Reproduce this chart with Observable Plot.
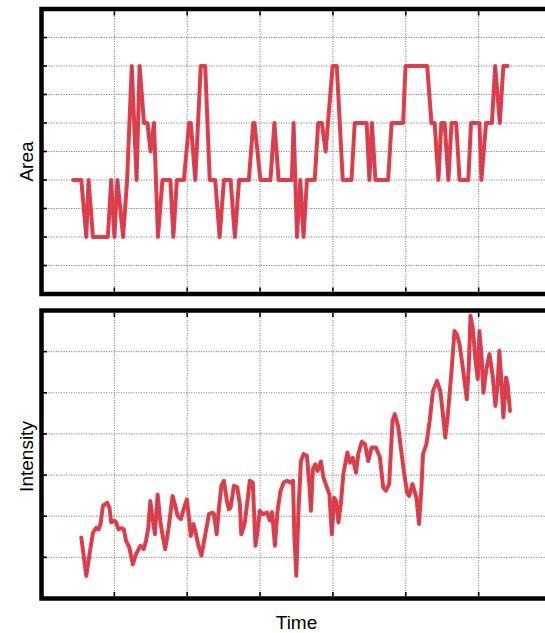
<!DOCTYPE html>
<html>
<head>
<meta charset="utf-8">
<script src="https://cdn.jsdelivr.net/npm/d3@7"></script>
<script src="https://cdn.jsdelivr.net/npm/@observablehq/plot@0.6"></script>
<style>
  html, body { margin: 0; padding: 0; background: white; }
  #chart { width: 545px; height: 633px; overflow: hidden; position: relative; }
  #chart svg { display: block; overflow: hidden; }
</style>
</head>
<body>
<div id="chart"></div>
<script>
// ---- data ----
const timeTicks = [10, 20, 30, 40, 50, 60];
const areaTicks = [1, 2, 3, 4, 5, 6, 7, 8, 9];
const intensityTicks = [1, 2, 3, 4, 5, 6];

const areaTime = [4.33,5.46,6.15,6.46,7.06,9.11,9.56,10.01,10.42,11.20,11.75,12.39,13.05,13.46,14.07,14.55,14.96,15.44,15.98,16.60,
  17.69,18.10,18.58,19.54,20.26,20.49,21.11,21.86,22.47,23.09,23.84,24.45,25.04,25.96,26.54,27.12,28.46,29.06,29.23,30.05,
  31.42,31.97,32.55,34.36,34.60,35.07,35.52,35.97,36.43,37.50,37.98,38.48,39.00,39.96,40.53,41.35,42.55,42.99,44.63,45.01,
  45.36,45.83,47.58,48.05,49.63,49.97,52.94,53.52,53.96,54.48,54.88,55.33,55.85,56.28,56.92,57.38,58.58,58.95,60.11,60.38,
  61.02,61.82,62.27,62.91,63.39,63.98];
const areaValue = [4,4,2,4,2,2,4,2,4,2,4,8,4,8,6,6,5,6,2,4,
  4,2,4,4,6,6,4,8,8,4,4,2,4,4,2,4,4,6,6,4,
  4,6,4,4,6,2,4,2,4,4,6,6,5,8,8,4,4,6,6,4,
  6,4,4,6,6,8,8,6,6,4,6,6,4,6,6,4,4,6,6,4,
  6,6,8,6,8,8];

const intensityTime = [5.46,6.15,6.60,7.06,7.51,7.83,8.10,8.43,9.02,9.33,9.56,10.01,10.25,10.56,10.93,11.30,11.61,12.06,12.53,12.98,
  13.57,14.03,14.34,14.66,14.93,15.26,15.57,15.94,16.30,16.63,16.98,17.45,17.99,18.31,18.68,19.13,19.58,19.95,20.26,20.49,
  20.86,21.17,21.49,21.95,22.40,22.99,23.46,23.67,24.04,24.36,24.69,25.04,25.41,25.72,25.96,26.41,26.87,27.23,27.42,27.87,
  28.24,28.59,29.00,29.37,29.60,29.96,30.42,30.97,31.33,31.65,32.04,32.38,32.79,33.24,33.70,34.15,34.52,34.70,34.97,35.29,
  35.61,35.97,36.43,36.79,36.98,37.25,37.57,37.88,38.35,38.70,39.17,39.52,39.85,40.16,40.44,40.75,41.08,41.43,41.98,42.35,
  42.72,43.17,43.48,43.95,44.40,44.85,45.31,45.90,46.45,46.90,47.27,47.72,48.18,48.50,48.95,49.32,49.73,50.18,50.45,50.92,
  51.46,51.82,52.15,52.36,52.83,53.28,53.73,54.28,54.74,55.10,55.42,55.78,56.24,56.69,57.01,57.38,57.83,58.37,58.65,58.88,
  59.19,59.56,59.88,60.11,60.38,60.66,61.02,61.48,61.93,62.30,62.61,62.84,63.07,63.39,63.76,63.97,64.30];
const intensityValue = [1.48,0.55,1.08,1.60,1.72,1.68,1.81,2.25,2.33,2.21,1.85,1.89,1.85,1.68,1.71,1.68,1.40,1.24,0.83,1.08,
  1.28,1.20,1.40,1.72,2.37,1.93,1.56,2.53,1.89,1.52,1.20,1.72,2.49,2.29,2.01,1.93,2.21,2.41,1.93,1.52,
  1.81,1.60,1.32,1.04,1.48,2.05,2.09,2.05,1.56,2.21,2.74,2.86,2.41,2.17,2.21,2.74,2.70,2.29,1.56,1.81,
  2.33,2.86,2.82,1.28,1.56,2.13,2.05,2.09,1.90,2.10,1.28,2.10,2.60,2.82,2.86,2.82,2.86,1.56,0.55,2.21,
  3.34,3.51,3.47,2.70,2.13,3.14,3.26,3.10,3.33,2.94,2.70,2.53,1.56,2.45,2.37,1.85,2.29,3.02,3.55,3.30,
  3.42,3.06,3.51,3.81,3.75,3.34,3.67,3.67,3.43,2.70,2.62,2.78,4.32,4.48,4.19,3.67,3.10,2.57,2.49,2.78,
  2.45,1.81,2.70,3.51,3.75,4.32,5.04,5.29,5.04,4.48,3.91,4.48,5.45,6.50,6.42,6.18,5.61,4.84,5.65,6.87,
  6.58,5.81,5.33,6.50,5.94,5.00,5.53,5.94,5.41,4.68,5.21,6.02,5.45,4.40,5.37,5.21,4.56];

// ---- drawing ----
const FONT = "'Liberation Sans', Arial, Helvetica, sans-serif";
const gridStyle = {stroke: "#777777", strokeOpacity: 1, strokeWidth: 0.9, strokeDasharray: "1.2,1.3"};
const tickStyle = {tickSize: 4, tickFormat: () => "", label: null, stroke: "black", strokeWidth: 1.6};

function panel({rows, yTicks, yDomain, height, marginTop, marginBottom, yLabel, labelDy, xLabel}) {
  return Plot.plot({
    width: 545,
    height,
    marginLeft: 41,
    marginRight: -6,
    marginTop,
    marginBottom,
    style: {fontFamily: FONT, background: "white"},
    x: {domain: [0, 70], axis: null},
    y: {domain: yDomain, axis: null},
    marks: [
      Plot.gridX(timeTicks, gridStyle),
      Plot.gridY(yTicks, gridStyle),
      Plot.line(rows, {x: "t", y: "v", stroke: "#f03c3c", strokeWidth: 4, strokeLinejoin: "round"}),
      Plot.line(rows, {x: "t", y: "v", stroke: "#4650cc", strokeWidth: 1, strokeDasharray: "2,2", strokeOpacity: 0.55}),
      Plot.axisY(yTicks, {anchor: "left", dx: 6, ...tickStyle}),
      Plot.axisY(yTicks, {anchor: "right", dx: -6, ...tickStyle}),
      Plot.axisX(timeTicks, {anchor: "top", dy: 6, ...tickStyle}),
      Plot.axisX(timeTicks, {anchor: "bottom", dy: -6, ...tickStyle}),
      Plot.frame({stroke: "black", strokeWidth: 4.5}),
      Plot.text([yLabel], {text: d => d, frameAnchor: "left", textAnchor: "middle", lineAnchor: "middle",
        dx: -15, dy: labelDy, rotate: -90, fontSize: 19, fontFamily: FONT, fill: "black"}),
      xLabel ? Plot.text([xLabel], {text: d => d, frameAnchor: "bottom", textAnchor: "middle", lineAnchor: "middle",
        dy: 24, fontSize: 19, fontFamily: FONT, fill: "black"}) : null
    ]
  });
}

const areaRows = areaTime.map((t, i) => ({t, v: areaValue[i]}));
const intensityRows = intensityTime.map((t, i) => ({t, v: intensityValue[i]}));

const areaChart = panel({rows: areaRows, yTicks: areaTicks, yDomain: [0, 10], height: 302,
  marginTop: 8.5, marginBottom: 8.5, yLabel: "Area", labelDy: 10});
const intensityChart = panel({rows: intensityRows, yTicks: intensityTicks, yDomain: [0, 7], height: 331,
  marginTop: 8, marginBottom: 35, yLabel: "Intensity", labelDy: 2, xLabel: "Time"});

const chartEl = document.getElementById("chart");
chartEl.appendChild(areaChart);
chartEl.appendChild(intensityChart);
</script>
</body>
</html>
